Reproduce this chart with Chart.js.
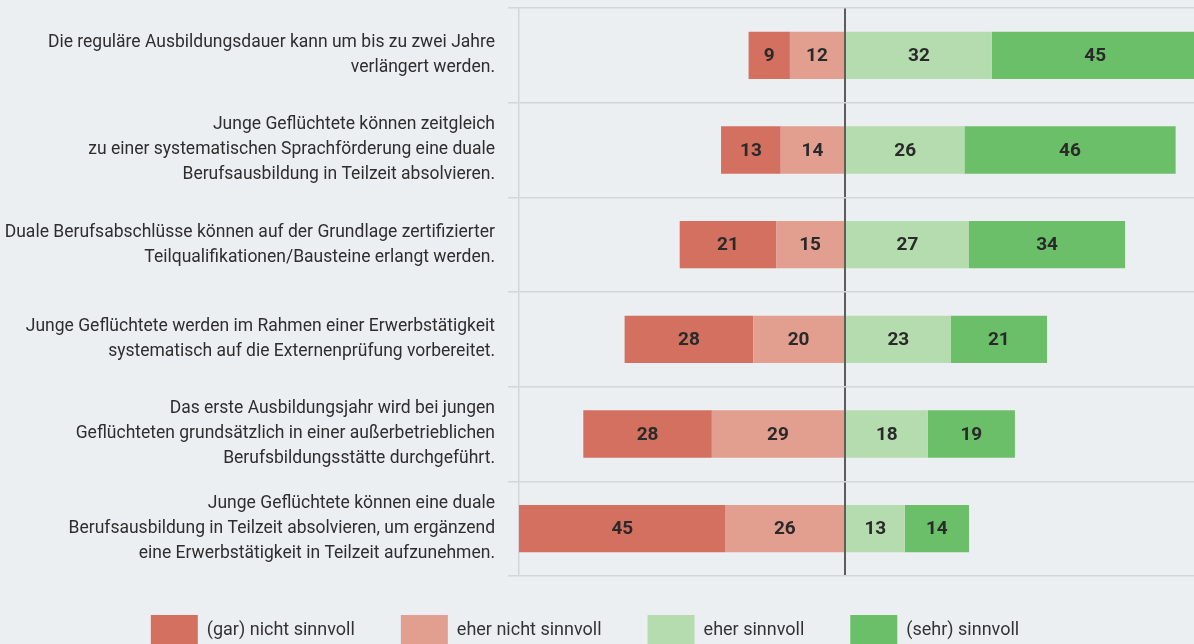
<!DOCTYPE html>
<html lang="de">
<head>
<meta charset="utf-8">
<title>Bewertung der Maßnahmen</title>
<script src="https://cdn.jsdelivr.net/npm/chart.js@4/dist/chart.umd.min.js"></script>
<style>
  html, body { margin: 0; padding: 0; background: #eceff2; }
  #wrap { width: 1194px; height: 644px; position: relative; }
</style>
</head>
<body>
<div id="wrap"><canvas id="graficoAussagen"></canvas></div>
<script>
// --- DATEN ---
const aussagen = [
    ['Die reguläre Ausbildungsdauer kann um bis zu zwei Jahre', 'verlängert werden.'],
    ['Junge Geflüchtete können zeitgleich', 'zu einer systematischen Sprachförderung eine duale', 'Berufsausbildung in Teilzeit absolvieren.'],
    ['Duale Berufsabschlüsse können auf der Grundlage zertifizierter', 'Teilqualifikationen/Bausteine erlangt werden.'],
    ['Junge Geflüchtete werden im Rahmen einer Erwerbstätigkeit', 'systematisch auf die Externenprüfung vorbereitet.'],
    ['Das erste Ausbildungsjahr wird bei jungen', 'Geflüchteten grundsätzlich in einer außerbetrieblichen', 'Berufsbildungsstätte durchgeführt.'],
    ['Junge Geflüchtete können eine duale', 'Berufsausbildung in Teilzeit absolvieren, um ergänzend', 'eine Erwerbstätigkeit in Teilzeit aufzunehmen.']
];
const kategorien = ['(gar) nicht sinnvoll', 'eher nicht sinnvoll', 'eher sinnvoll', '(sehr) sinnvoll'];
const garNicht = [9, 13, 21, 28, 28, 45];
const eherNicht = [12, 14, 15, 20, 29, 26];
const eher = [32, 26, 27, 23, 18, 13];
const sehr = [45, 46, 34, 21, 19, 14];

// Schrift: moeglichst schmal (Original ist eine Condensed-Schrift)
const schrift = "Roboto, 'Liberation Sans', sans-serif";
Chart.defaults.font.family = schrift;
Chart.defaults.color = '#2e2e2e';

// Zahlen mittig in die Segmente schreiben
const wertLabels = {
    id: 'wertLabels',
    afterDatasetsDraw(chart) {
        const c = chart.ctx;
        c.save();
        c.font = 'bold 19px ' + schrift;
        c.fillStyle = '#2a2a2a';
        c.textAlign = 'center';
        c.textBaseline = 'middle';
        chart.data.datasets.forEach((ds, i) => {
            chart.getDatasetMeta(i).data.forEach((bar, j) => {
                c.fillText(Math.abs(ds.data[j]), (bar.x + bar.base) / 2, bar.y + 1);
            });
        });
        c.restore();
    }
};

// Legende etwas nach oben/links schieben (wie im Original)
const legendeVerschieben = {
    id: 'legendeVerschieben',
    afterLayout(chart) {
        const lg = chart.legend;
        lg.top -= 7; lg.bottom -= 7;
        lg.left -= 12; lg.right -= 12;
    }
};

const ctx = document.getElementById('graficoAussagen').getContext('2d');

new Chart(ctx, {
    type: 'bar',
    data: {
        labels: aussagen,
        datasets: [
            // negative Seite: "eher nicht" liegt an der Mitte -> order 1
            { label: kategorien[0], data: garNicht.map(v => -v), backgroundColor: '#d3705f', order: 2 },
            { label: kategorien[1], data: eherNicht.map(v => -v), backgroundColor: '#e29f8f', order: 1 },
            { label: kategorien[2], data: eher, backgroundColor: '#b5dcaf', order: 3 },
            { label: kategorien[3], data: sehr, backgroundColor: '#6abf68', order: 4 }
        ]
    },
    plugins: [wertLabels, legendeVerschieben],
    options: {
        indexAxis: 'y',
        responsive: true,
        maintainAspectRatio: false,
        animation: false,
        layout: { padding: { top: 8, bottom: -18, left: 0, right: 0 } },
        datasets: {
            bar: { categoryPercentage: 0.5, barPercentage: 1, borderWidth: 0 }
        },
        plugins: {
            tooltip: { enabled: false },
            legend: {
                position: 'bottom',
                labels: {
                    boxWidth: 47,
                    boxHeight: 30,
                    padding: 46,
                    color: '#333',
                    font: { size: 18 },
                    sort: (a, b) => a.datasetIndex - b.datasetIndex
                }
            }
        },
        scales: {
            x: {
                stacked: true,
                min: -71,
                max: 76,
                z: 1,
                afterBuildTicks: (scale) => { scale.ticks = [{ value: 0 }]; }, // nur die Nulllinie
                ticks: { display: false },
                grid: { color: '#5c5c5c', lineWidth: 2, drawTicks: false },
                border: { display: false }
            },
            y: {
                stacked: true,
                afterFit: (scale) => {
                    scale.width = 519;
                    scale.paddingTop = 0;     // mehrzeilige Labels sollen die Flaeche nicht verkleinern
                    scale.paddingBottom = 0;
                },
                ticks: {
                    padding: 13,
                    color: '#2e2e2e',
                    font: { size: 17.5, lineHeight: 1.43 }
                },
                grid: { color: '#d2d5d9', lineWidth: 1.5, tickLength: 11, offset: true },
                border: { display: true, color: '#d2d5d9', width: 1.5 }
            }
        }
    }
});
</script>
</body>
</html>
